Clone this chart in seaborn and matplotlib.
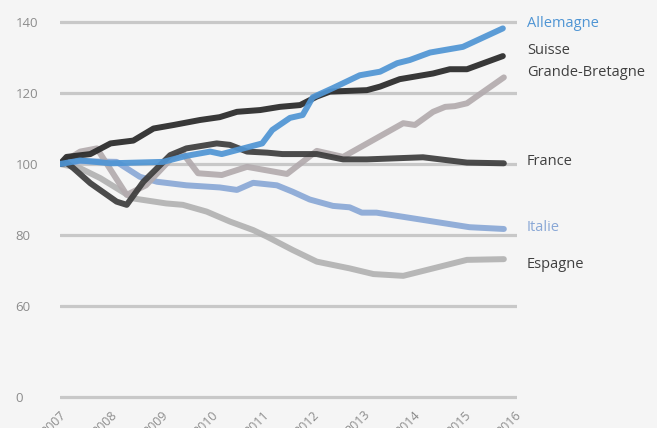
import numpy as np
import pandas as pd
import seaborn as sns
import matplotlib.pyplot as plt

# data (index, 2007 = 100)
pays = ['Espagne', 'Italie', 'Grande-Bretagne', 'France', 'Suisse', 'Allemagne']

allemagne_x = [2007.0, 2007.4, 2008.0, 2009.04, 2009.5, 2009.97, 2010.2, 2011.0, 2011.2, 2011.55,
               2011.8, 2012.0, 2012.4, 2012.93, 2013.33, 2013.67, 2013.92, 2014.32, 2014.97, 2015.76]
allemagne_y = [100, 101, 100.2, 100.6, 102.3, 103.5, 102.8, 105.8, 109.6, 113,
               113.8, 118.8, 121.4, 125, 126, 128.4, 129.3, 131.4, 133, 138.2]

suisse_x = [2007.0, 2007.13, 2007.6, 2008.0, 2008.45, 2008.85, 2009.25, 2009.77, 2010.16, 2010.5,
            2010.96, 2011.35, 2011.75, 2012.08, 2012.34, 2013.07, 2013.33, 2013.72, 2014.38, 2014.71,
            2015.05, 2015.76]
suisse_y = [100, 102, 102.8, 105.8, 106.6, 110, 111, 112.4, 113.2, 114.7,
            115.2, 116.1, 116.6, 119, 120.4, 120.8, 121.8, 123.9, 125.5, 126.7,
            126.7, 130.4]

gb_x = [2007.0, 2007.4, 2007.73, 2008.32, 2008.7, 2009.2, 2009.43, 2009.73, 2010.2, 2010.7,
        2011.49, 2012.08, 2012.6, 2013.79, 2014.02, 2014.38, 2014.62, 2014.81, 2015.05, 2015.78]
gb_y = [100, 103.5, 104.4, 91.3, 94, 101.5, 103, 97.4, 96.9, 99.2,
        97.2, 103.7, 102, 111.5, 111, 114.7, 116.1, 116.3, 117.1, 124.4]

france_x = [2007.0, 2007.13, 2007.26, 2007.6, 2008.12, 2008.32, 2008.65, 2009.18, 2009.5, 2010.1,
            2010.36, 2010.7, 2011.1, 2011.4, 2012.08, 2012.6, 2013.07, 2014.18, 2015.05, 2015.78]
france_y = [100, 100.3, 98.9, 94.6, 89.4, 88.5, 95, 102.5, 104.4, 105.8,
            105.4, 103.5, 103.2, 102.8, 102.8, 101.3, 101.3, 101.9, 100.4, 100.2]

italie_x = [2007.0, 2007.4, 2008.12, 2008.58, 2008.92, 2009.5, 2010.16, 2010.5, 2010.82, 2011.29,
            2011.6, 2011.94, 2012.4, 2012.73, 2012.97, 2013.26, 2015.1, 2015.78]
italie_y = [100, 100.8, 100.6, 96.4, 95, 94, 93.4, 92.7, 94.7, 94,
            92.2, 90, 88.2, 87.8, 86.3, 86.3, 82.2, 81.7]

espagne_x = [2007.0, 2007.4, 2007.8, 2008.45, 2009.1, 2009.43, 2009.9, 2010.36, 2010.82, 2011.1,
             2011.6, 2012.08, 2012.73, 2013.2, 2013.79, 2014.38, 2015.05, 2015.78]
espagne_y = [100, 98.8, 96, 90.3, 88.9, 88.5, 86.6, 83.8, 81.4, 79.5,
             75.8, 72.5, 70.6, 69, 68.5, 70.6, 73, 73.2]

annees = list(range(2007, 2017))
y_ticks = [0, 60, 80, 100, 120, 140]

series = {
    'Espagne': (espagne_x, espagne_y),
    'Italie': (italie_x, italie_y),
    'Grande-Bretagne': (gb_x, gb_y),
    'France': (france_x, france_y),
    'Suisse': (suisse_x, suisse_y),
    'Allemagne': (allemagne_x, allemagne_y),
}

frames = []
for nom in pays:
    xs, ys = series[nom]
    frames.append(pd.DataFrame({'annee': xs, 'indice': ys, 'pays': nom}))
df = pd.concat(frames, ignore_index=True)

couleurs = {
    'Espagne': '#b2b2b2',
    'Italie': '#8aa8d6',
    'Grande-Bretagne': '#b3abae',
    'France': '#3c3c3c',
    'Suisse': '#282828',
    'Allemagne': '#4f95d4',
}
couleurs_texte = {
    'Espagne': '#404040',
    'Italie': '#8aa8d6',
    'Grande-Bretagne': '#404040',
    'France': '#404040',
    'Suisse': '#404040',
    'Allemagne': '#4f95d4',
}
decalage = {'Allemagne': 1.3, 'Suisse': 1.5, 'Grande-Bretagne': 1.3,
            'France': 0.6, 'Italie': 0.4, 'Espagne': -1.4}

sns.set_style('white')
plt.rcParams['font.family'] = ['Open Sans', 'DejaVu Sans']

# axis squeezed below 60, as in the original
k = 0.427
def fwd(y):
    y = np.asarray(y, dtype=float)
    return np.where(y >= 60, y, 60 - (60 - y) * k)

def inv(t):
    t = np.asarray(t, dtype=float)
    return np.where(t >= 60, t, 60 - (60 - t) / k)

fig = plt.figure(figsize=(6.57, 4.28), dpi=100)
fig.patch.set_facecolor('#f5f5f5')
ax = fig.add_axes([60 / 657, 1 - 400 / 428, 457 / 657, 400 / 428])
ax.set_facecolor('#f5f5f5')
ax.set_yscale('function', functions=(fwd, inv))

sns.lineplot(data=df, x='annee', y='indice', hue='pays', hue_order=pays, palette=couleurs,
             sort=False, estimator=None, linewidth=4.3, alpha=0.92, legend=False, ax=ax,
             solid_capstyle='round')

for nom in pays:
    xs, ys = series[nom]
    ax.text(2016.24, ys[-1] + decalage[nom], nom, color=couleurs_texte[nom], fontsize=10.5,
            va='center', ha='left', clip_on=False)

ax.set_xlim(2007, 2016.04)
ax.set_ylim(-2, 146.2)
ax.set_yticks(y_ticks)
ax.set_yticklabels([str(v) for v in y_ticks])
ax.set_xticks(annees)
ax.set_xticklabels([str(a) for a in annees], rotation=45, ha='right', rotation_mode='anchor')
ax.grid(axis='y', color='#c8c8c8', linewidth=2.3)
ax.grid(axis='x', visible=False)
ax.set_axisbelow(True)
for s in ax.spines.values():
    s.set_visible(False)
ax.tick_params(axis='y', length=0, pad=32, labelsize=9.5, labelcolor='#8c8c8c')
ax.tick_params(axis='x', length=0, pad=6, labelsize=9, labelcolor='#8c8c8c')
for lbl in ax.get_yticklabels():
    lbl.set_ha('left')
ax.set_xlabel('')
ax.set_ylabel('')

fig.savefig('out.png', dpi=100, facecolor=fig.get_facecolor())
